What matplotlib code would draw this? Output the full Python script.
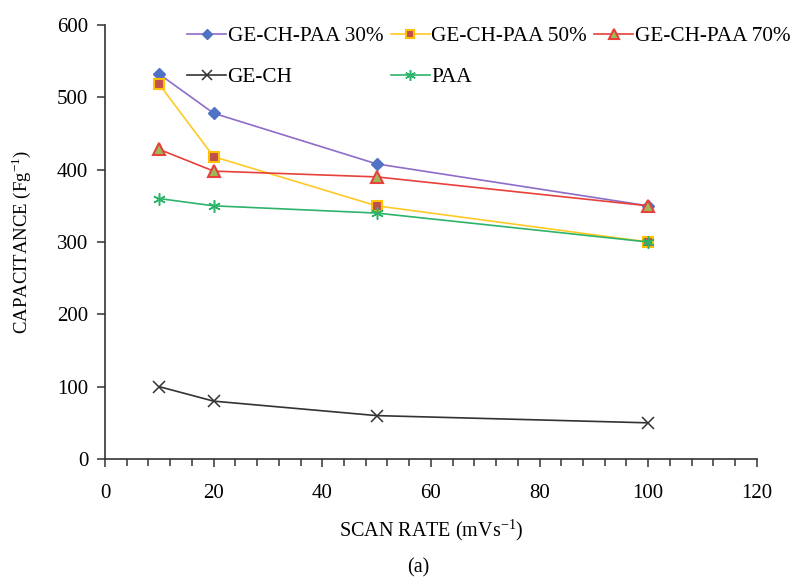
import matplotlib
matplotlib.use("Agg")
import matplotlib.pyplot as plt
from matplotlib.ticker import MultipleLocator

plt.rcParams['font.family'] = ['Liberation Serif', 'DejaVu Serif']
plt.rcParams['mathtext.fontset'] = 'custom'
plt.rcParams['mathtext.rm'] = 'Liberation Serif'

scan_rate = [10, 20, 50, 100]
paa30 = [532, 478, 408, 350]
paa50 = [518, 418, 350, 300]
paa70 = [428, 398, 390, 350]
ge_ch = [100, 80, 60, 50]
paa = [360, 350, 340, 300]

fig = plt.figure(figsize=(7.95, 5.77), dpi=100)
ax = fig.add_axes([0.132, 0.2045, 0.82, 0.7522])

h30, = ax.plot(scan_rate, paa30, color='#8E6CC8', lw=1.2, marker='D', ms=6,
               mfc='#4F72C4', mec='#4F72C4', label='GE-CH-PAA 30%')
h50, = ax.plot(scan_rate, paa50, color='#FFC926', lw=1.2, marker='s', ms=7,
               mfc='#C0504D', mec='#FFC000', mew=1.5, label='GE-CH-PAA 50%')
h70, = ax.plot(scan_rate, paa70, color='#E8403A', lw=1.2, marker='^', ms=8,
               mfc='#9BBB59', mec='#E8403A', mew=1.5, label='GE-CH-PAA 70%')
hge, = ax.plot(scan_rate, ge_ch, color='#333333', lw=1.2, marker='x', ms=8,
               mew=1.1, label='GE-CH')
hpa, = ax.plot(scan_rate, paa, color='#2DB36A', lw=1.2, marker=(6, 2, 0), ms=9,
               mew=1.1, label='PAA')

ax.set_xlim(0, 120)
ax.set_ylim(0, 600)
ax.xaxis.set_major_locator(MultipleLocator(20))
ax.xaxis.set_minor_locator(MultipleLocator(4))
ax.yaxis.set_major_locator(MultipleLocator(100))
for s in ['top', 'right']:
    ax.spines[s].set_visible(False)
for s in ['left', 'bottom']:
    ax.spines[s].set_color('#333333')
    ax.spines[s].set_linewidth(1.2)
ax.tick_params(axis='both', which='major', labelsize=15, length=6, width=1.1,
               color='#333333', direction='out')
ax.tick_params(axis='x', which='major', pad=12)
ax.tick_params(axis='y', which='major', pad=6)
ax.tick_params(axis='x', which='minor', length=5, width=1.1, color='#333333')

ax.set_ylabel('CAPACITANCE (Fg$^{-1}$)', fontsize=13.5, labelpad=17)
ax.set_xlabel('SCAN RATE (mVs$^{-1}$)', fontsize=14.5, labelpad=10)
fig.text(0.526, 0.0156, '(a)', fontsize=14.5, ha='center', va='center')

ax.legend([h30, hge, h50, hpa, h70],
          ['GE-CH-PAA 30%', 'GE-CH', 'GE-CH-PAA 50%', 'PAA', 'GE-CH-PAA 70%'],
          ncol=3, frameon=False, fontsize=15.3, loc='upper left',
          bbox_to_anchor=(0.1, 1.036), handlelength=1.85, handletextpad=0.05,
          columnspacing=0.35, labelspacing=1.0, markerscale=0.85,
          borderpad=0.3)

fig.savefig('out.png', dpi=100)
